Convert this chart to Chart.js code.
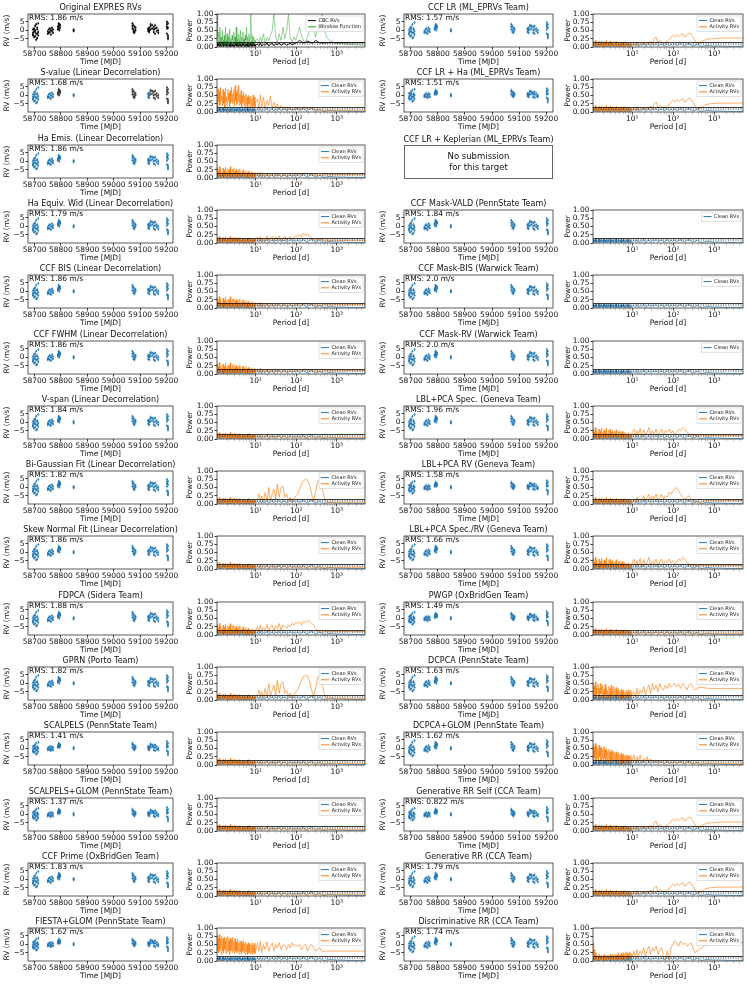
<!DOCTYPE html>
<html><head><meta charset="utf-8">
<script src="https://cdn.jsdelivr.net/npm/chart.js@4.4.1/dist/chart.umd.min.js"></script>
<style>
body{margin:0;background:#fff}
#fig{position:relative;width:747px;height:997px;overflow:hidden;font-family:'DejaVu Sans',sans-serif;color:#111}
canvas{position:absolute}
.ns{position:absolute;border:1px solid #666;box-sizing:border-box;display:flex;align-items:center;justify-content:center;text-align:center;font-size:8.5px;line-height:1.25}
.tt{position:absolute;font-size:8px;text-align:center;white-space:nowrap;transform:translate(-50%,-50%)}
</style></head>
<body><div id="fig"></div>
<script>
// ---------------- DATA ----------------
const timeTicks = [58700, 58800, 58900, 59000, 59100, 59200];
const rvTicks = [-5, 0, 5];
const powerTicks = [0, 0.25, 0.5, 0.75, 1];
const periodTicks = [2,3,4,5,6,7,8,9,10,20,30,40,50,60,70,80,90,100,200,300,400,500,600,700,800,900,1000,2000,3000,4000];
const periodLabels = {10: '10¹', 100: '10²', 1000: '10³'};
const fapLevels = [0.135, 0.09];

const leftTitles = ["Original EXPRES RVs","S-value (Linear Decorrelation)","Ha Emis. (Linear Decorrelation)","Ha Equiv. Wid (Linear Decorrelation)","CCF BIS (Linear Decorrelation)","CCF FWHM (Linear Decorrelation)","V-span (Linear Decorrelation)","Bi-Gaussian Fit (Linear Decorrelation)","Skew Normal Fit (Linear Decorrelation)","FDPCA (Sidera Team)","GPRN (Porto Team)","SCALPELS (PennState Team)","SCALPELS+GLOM (PennState Team)","CCF Prime (OxBridGen Team)","FIESTA+GLOM (PennState Team)"];
const leftRms = ["1.86","1.68","1.86","1.79","1.86","1.86","1.84","1.82","1.86","1.88","1.82","1.41","1.37","1.83","1.62"];
const leftRvSet = ['orig','sval','A','A','A','A','A','A','A','A','A','B','B','A','B'];
const leftAct = ['window','sval','mid','haeq','mid','mid','low','bigauss','low','fdpca','bigauss','low','low','low','fiesta'];

const rightTitles = ["CCF LR (ML_EPRVs Team)","CCF LR + Ha (ML_EPRVs Team)","CCF LR + Keplerian (ML_EPRVs Team)","CCF Mask-VALD (PennState Team)","CCF Mask-BIS (Warwick Team)","CCF Mask-RV (Warwick Team)","LBL+PCA Spec. (Geneva Team)","LBL+PCA RV (Geneva Team)","LBL+PCA Spec./RV (Geneva Team)","PWGP (OxBridGen Team)","DCPCA (PennState Team)","DCPCA+GLOM (PennState Team)","Generative RR Self (CCA Team)","Generative RR (CCA Team)","Discriminative RR (CCA Team)"];
const rightRms = ["1.57","1.51",null,"1.84","2.0","2.0","1.96","1.58","1.66","1.49","1.63","1.62","0.822","1.79","1.74"];
const rightRvSet = ['A','B',null,'A','A','A','A','B','A','B','A','A','B','A','A'];
const rightAct = ['ccflr','ccflr',null,'','','','lblspec','lblrv','lblspec','low','dcpca','dcglom','ccflr','ccflr','discrim'];

// RV observation epochs (MJD) and values (m/s)
const rvTime = [
58694,58694,58694,58694,58698,58698,58698,58702,58702,58702,58702,58706,58706,58706,58710,58710,58710,58710,58714,58714,58714,
58750,58750,58754,58754,58758,58758,58762,58762,58766,58766,58770,58770,
58788,58788,58791,58791,58791,58794,58794,58794,58797,58797,
58848,58848,58848,
59071,59071,59071,59075,59075,59075,59079,59079,59079,59083,59083,
59131,59131,59131,59135,59135,59135,59140,59140,59140,59146,59146,59152,59152,59152,59157,59157,59157,59163,59163,59169,59169,
59202,59202,59202,59202,59202,59206,59206,59206,59206,59206];
const rvOrig = [
-1.5,-3,0.5,-2.5, 1,-0.5,-4, 2.5,-1,-3.5,0, 3.5,-2,-5.5, 1.5,-4.5,0.5,-2, 4,-1,-3,
-2,-0.5, 0.5,-1.5, 1,-1, -2.5,0, 1.5,-0.5, 0.5,-1.5,
0.5,2, 1,3,4, 0,2.5,3.5, 1.5,3,
-0.5,0.3,0,
4,2.5,1, 0.5,-1,3, 2,-0.5,-1.5, 1.5,0,
0.5,-0.5,1, 0,1.5,-1, 2.5,0.5,3.5, 1,3, 2,-1,0.5, 3,-2,1, -0.5,1.5, 0,-1.5,
5,3.5,2,1,-2, 4,1.5,-3,-4,-5];
const rvCleanA = [
-1,-2.5,0.5,-2, 1.5,-0.5,-3.5, 2,-1,-3,0.5, 3.5,-1.5,-4.5, 1,-4,0.5,-1.5, 4.5,-0.5,-2.5,
-1.5,-0.5, 0.5,-1, 1,-1.5, -2,0, 1.5,-0.5, 0.5,-1,
0.5,1.5, 1,2.5,3.5, 0,2,3, 1.5,2.5,
-0.5,0.5,0,
3.5,2,0.5, 0.5,-1,2.5, 1.5,-0.5,-1.5, 1,0,
0.5,-1,1, 0,1.5,-1.5, 2.5,0.5,3, 1,2.5, 2,-1.5,0, 2.5,-2,0.5, -0.5,1, 0,-1.5,
4.5,3,2,0.5,-2, 3.5,1.5,-2.5,-3.5,-4.5];
const rvCleanB = [
-0.5,-2,1,-1.5, 1.5,0,-2.5, 2,-0.5,-2,0.5, 3,-1,-3.5, 1,-3,0.5,-1, 3.5,0,-2,
-1,0, 0.5,-0.5, 1,-1, -1.5,0, 1,-0.5, 0.5,-1,
0.5,1.5, 1,2,3, 0.5,1.5,2.5, 1,2,
-0.5,0.5,0,
3,2,0.5, 0.5,-0.5,2, 1.5,0,-1, 1,0,
0.5,-0.5,1, 0,1,-1, 2,0.5,2.5, 1,2, 1.5,-1,0.5, 2,-1.5,0.5, -0.5,1, 0,-1,
4,2.5,1.5,0.5,-1.5, 3,1,-2,-3,-4];

// periodogram period grid (days): short (64), mid (24), long (22)
const periodsShort = [
1.10,1.14,1.18,1.22,1.26,1.30,1.35,1.40,
1.45,1.50,1.55,1.60,1.66,1.72,1.78,1.84,
1.90,1.97,2.04,2.11,2.18,2.26,2.34,2.42,
2.50,2.59,2.68,2.77,2.87,2.97,3.07,3.18,
3.29,3.40,3.52,3.64,3.77,3.90,4.04,4.18,
4.33,4.48,4.64,4.80,4.97,5.14,5.32,5.51,
5.70,5.90,6.11,6.32,6.54,6.77,7.01,7.26,
7.51,7.77,8.04,8.32,8.61,8.91,9.22,9.55];
const periodsMid = [10,11,12,13,14,15.5,17,19,21,23,25.5,28,31,34,38,42,47,52,58,64,71,79,88,97];
const periodsLong = [108,120,135,150,170,190,215,240,270,300,340,380,430,490,560,650,800,1000,1400,2000,3000,5000];

// power values, short-period parts (64 each)
const shortClean = [
0.11,0.01,0.09,0.03,0.12,0.02,0.08,0.01,
0.1,0.04,0.12,0.01,0.07,0.03,0.11,0.02,
0.09,0.01,0.12,0.04,0.08,0.02,0.1,0.01,
0.11,0.03,0.07,0.02,0.12,0.01,0.09,0.04,
0.1,0.02,0.08,0.01,0.11,0.03,0.12,0.02,
0.07,0.01,0.1,0.04,0.09,0.02,0.11,0.01,
0.08,0.03,0.12,0.02,0.1,0.01,0.07,0.04,
0.11,0.02,0.09,0.01,0.1,0.03,0.08,0.02];
const shortCBC = [
0.13,0.02,0.1,0.04,0.15,0.02,0.09,0.01,
0.12,0.05,0.14,0.01,0.08,0.03,0.13,0.02,
0.1,0.01,0.15,0.05,0.09,0.02,0.12,0.01,
0.13,0.03,0.08,0.02,0.14,0.01,0.1,0.05,
0.12,0.02,0.09,0.01,0.13,0.04,0.15,0.02,
0.08,0.01,0.12,0.05,0.1,0.02,0.13,0.01,
0.09,0.03,0.14,0.02,0.12,0.01,0.08,0.05,
0.13,0.02,0.1,0.01,0.12,0.04,0.09,0.02];
const shortWindow = [
1.0,0.3,0.1,0.45,0.05,0.6,0.15,0.3,
0.05,0.5,0.2,0.1,0.35,0.05,0.6,0.2,
0.1,0.4,0.05,0.3,0.15,0.55,0.1,0.25,
0.05,0.35,0.2,0.1,0.45,0.05,0.3,0.15,
0.6,0.1,0.25,0.05,0.4,0.2,0.1,0.5,
0.05,0.3,0.15,0.45,0.1,0.25,0.05,0.35,
0.2,0.6,0.1,0.3,0.05,0.4,0.15,0.25,
1.0,0.2,0.1,0.35,0.05,0.3,0.2,0.15];
const shortLow = [
0.18,0.02,0.12,0.05,0.2,0.01,0.15,0.03,
0.1,0.06,0.17,0.01,0.13,0.04,0.19,0.02,
0.11,0.05,0.16,0.01,0.14,0.03,0.2,0.02,
0.09,0.04,0.15,0.01,0.18,0.03,0.12,0.05,
0.16,0.02,0.1,0.01,0.14,0.04,0.17,0.02,
0.08,0.03,0.13,0.01,0.15,0.05,0.11,0.02,
0.14,0.01,0.09,0.04,0.16,0.02,0.12,0.03,
0.1,0.01,0.13,0.04,0.08,0.02,0.12,0.03];
const shortMid = [
0.32,0.04,0.22,0.08,0.35,0.02,0.26,0.06,
0.18,0.03,0.3,0.1,0.24,0.02,0.33,0.05,
0.2,0.08,0.28,0.03,0.25,0.05,0.34,0.02,
0.17,0.06,0.27,0.03,0.3,0.04,0.21,0.07,
0.26,0.02,0.18,0.05,0.24,0.03,0.28,0.06,
0.15,0.02,0.22,0.05,0.25,0.03,0.18,0.04,
0.23,0.02,0.16,0.06,0.2,0.03,0.17,0.05,
0.14,0.02,0.19,0.04,0.12,0.03,0.16,0.02];
const shortHigh = [
0.55,0.15,0.7,0.3,0.62,0.2,0.75,0.35,
0.5,0.18,0.68,0.25,0.6,0.12,0.72,0.3,
0.45,0.2,0.7,0.35,0.58,0.15,0.65,0.28,
0.75,0.25,0.55,0.3,0.68,0.18,0.8,0.35,
0.6,0.22,0.7,0.3,0.82,0.2,0.55,0.25,
0.65,0.15,0.5,0.28,0.6,0.2,0.48,0.12,
0.55,0.22,0.45,0.15,0.5,0.25,0.42,0.1,
0.48,0.2,0.4,0.12,0.52,0.18,0.45,0.15];
const shortDc = [
0.5,0.08,0.42,0.15,0.55,0.05,0.38,0.2,
0.48,0.1,0.35,0.06,0.5,0.18,0.4,0.08,
0.45,0.12,0.32,0.05,0.48,0.15,0.38,0.1,
0.3,0.05,0.42,0.12,0.35,0.08,0.45,0.15,
0.28,0.05,0.4,0.1,0.33,0.04,0.38,0.12,
0.3,0.06,0.35,0.1,0.25,0.05,0.32,0.12,
0.28,0.04,0.3,0.1,0.22,0.06,0.3,0.08,
0.25,0.05,0.32,0.12,0.28,0.06,0.3,0.1];
const shortDcGlom = [
0.62,0.15,0.55,0.22,0.65,0.1,0.58,0.2,
0.5,0.12,0.6,0.25,0.52,0.1,0.56,0.18,
0.48,0.1,0.55,0.2,0.45,0.08,0.5,0.15,
0.42,0.1,0.48,0.18,0.4,0.06,0.45,0.15,
0.38,0.08,0.42,0.15,0.36,0.06,0.4,0.12,
0.35,0.05,0.38,0.12,0.32,0.06,0.36,0.1,
0.3,0.05,0.34,0.1,0.28,0.04,0.32,0.08,
0.28,0.04,0.3,0.1,0.26,0.05,0.3,0.08];
const shortFiesta = [
0.78,0.3,0.7,0.25,0.8,0.35,0.65,0.2,
0.75,0.3,0.68,0.25,0.72,0.35,0.6,0.22,
0.7,0.28,0.75,0.3,0.62,0.2,0.7,0.32,
0.65,0.25,0.72,0.3,0.6,0.22,0.68,0.3,
0.58,0.25,0.66,0.3,0.55,0.2,0.62,0.28,
0.6,0.22,0.55,0.3,0.62,0.25,0.52,0.2,
0.58,0.28,0.5,0.2,0.56,0.25,0.52,0.22,
0.5,0.25,0.56,0.2,0.48,0.26,0.54,0.22];
const shortDiscrim = [
0.55,0.1,0.35,0.05,0.25,0.02,0.18,0.06,
0.15,0.02,0.2,0.05,0.12,0.03,0.18,0.01,
0.14,0.05,0.2,0.02,0.16,0.04,0.12,0.01,
0.18,0.04,0.15,0.02,0.2,0.05,0.14,0.02,
0.22,0.04,0.16,0.06,0.2,0.03,0.18,0.05,
0.22,0.04,0.25,0.06,0.18,0.03,0.24,0.05,
0.2,0.05,0.26,0.07,0.22,0.04,0.28,0.06,
0.25,0.08,0.22,0.05,0.28,0.1,0.24,0.06];

// mid-period parts (24 each)
const midClean = [0.05,0.08,0.03,0.10,0.02,0.07,0.04,0.11,0.02,0.06,0.09,0.03,0.08,0.05,0.10,0.04,0.07,0.09,0.03,0.06,0.10,0.04,0.08,0.05];
const midCBC = [0.06,0.09,0.04,0.12,0.03,0.08,0.05,0.12,0.03,0.08,0.11,0.04,0.1,0.06,0.12,0.05,0.09,0.11,0.05,0.08,0.12,0.06,0.1,0.12];
const midWindow = [0.2,0.25,0.1,0.3,0.15,0.4,0.1,0.3,0.2,0.35,0.5,1.0,0.3,0.15,0.4,0.2,0.6,0.25,0.5,1.0,0.3,0.15,0.3,0.2];
const midLow = [0.05,0.1,0.03,0.12,0.02,0.08,0.05,0.11,0.02,0.09,0.04,0.1,0.03,0.07,0.09,0.02,0.06,0.08,0.03,0.05,0.07,0.03,0.06,0.04];
const midHaEq = [0.1,0.18,0.04,0.2,0.06,0.15,0.03,0.22,0.08,0.12,0.2,0.05,0.18,0.1,0.22,0.06,0.15,0.2,0.08,0.14,0.2,0.1,0.18,0.22];
const midCcfLR = [0.08,0.12,0.04,0.15,0.05,0.1,0.08,0.14,0.06,0.12,0.1,0.18,0.08,0.25,0.3,0.12,0.2,0.15,0.1,0.12,0.18,0.22,0.3,0.35];
const midSval = [0.3,0.4,0.1,0.52,0.15,0.45,0.1,0.35,0.2,0.48,0.1,0.3,0.15,0.25,0.08,0.2,0.12,0.15,0.06,0.1,0.12,0.05,0.08,0.1];
const midMid = [0.1,0.15,0.03,0.18,0.05,0.12,0.02,0.15,0.06,0.1,0.14,0.03,0.12,0.08,0.1,0.04,0.09,0.12,0.05,0.08,0.1,0.06,0.09,0.12];
const midLblSpec = [0.2,0.3,0.08,0.25,0.1,0.32,0.05,0.28,0.12,0.2,0.35,0.1,0.25,0.15,0.3,0.08,0.22,0.3,0.12,0.25,0.2,0.3,0.18,0.25];
const midBiGauss = [0.1,0.15,0.3,0.1,0.25,0.05,0.35,0.12,0.5,0.1,0.3,0.45,0.15,0.6,0.2,0.5,0.55,0.2,0.3,0.1,0.2,0.05,0.15,0.25];
const midFdpca = [0.15,0.25,0.08,0.3,0.1,0.22,0.15,0.32,0.1,0.25,0.3,0.12,0.28,0.2,0.35,0.15,0.3,0.25,0.2,0.3,0.25,0.35,0.3,0.38];
const midDcpca = [0.2,0.25,0.1,0.35,0.15,0.3,0.2,0.4,0.15,0.35,0.45,0.2,0.5,0.3,0.45,0.25,0.5,0.35,0.3,0.45,0.35,0.5,0.4,0.45];
const midDcGlom = [0.15,0.3,0.05,0.25,0.1,0.3,0.05,0.2,0.12,0.25,0.05,0.18,0.1,0.15,0.05,0.12,0.08,0.1,0.04,0.08,0.1,0.05,0.07,0.06];
const midFiesta = [0.3,0.55,0.3,0.6,0.25,0.5,0.35,0.58,0.3,0.45,0.55,0.3,0.5,0.4,0.55,0.35,0.5,0.45,0.35,0.5,0.4,0.55,0.45,0.5];
const midDiscrim = [0.15,0.3,0.1,0.35,0.15,0.3,0.2,0.4,0.15,0.35,0.45,0.2,0.4,0.3,0.45,0.2,0.35,0.4,0.1,0.02,0.3,0.05,0.4,0.5];
const midLblRV = [0.08,0.12,0.05,0.2,0.08,0.15,0.1,0.25,0.08,0.2,0.3,0.1,0.25,0.15,0.3,0.1,0.2,0.3,0.15,0.25,0.2,0.35,0.3,0.4];

// long-period parts (22 each)
const longClean = [0.09,0.04,0.07,0.10,0.05,0.03,0.08,0.10,0.06,0.03,0.05,0.08,0.04,0.02,0.03,0.05,0.04,0.03,0.03,0.02,0.02,0.02];
const longCBC = [0.15,0.2,0.16,0.12,0.14,0.18,0.15,0.12,0.14,0.2,0.16,0.13,0.12,0.12,0.13,0.13,0.13,0.13,0.13,0.13,0.13,0.13];
const longWindow = [0.4,0.6,0.35,0.2,0.15,0.3,0.55,0.7,0.5,0.3,0.55,0.75,1.0,0.6,0.3,0.2,0.15,0.1,0.1,0.08,0.06,0.05];
const longLow = [0.05,0.07,0.04,0.06,0.03,0.05,0.07,0.04,0.03,0.05,0.06,0.04,0.03,0.04,0.05,0.05,0.05,0.05,0.05,0.05,0.05,0.05];
const longHaEq = [0.2,0.26,0.18,0.3,0.22,0.28,0.2,0.15,0.1,0.08,0.1,0.12,0.1,0.08,0.08,0.08,0.08,0.08,0.08,0.08,0.08,0.08];
const longCcfLR = [0.3,0.38,0.32,0.36,0.4,0.3,0.35,0.42,0.38,0.3,0.18,0.12,0.1,0.15,0.2,0.23,0.25,0.26,0.27,0.27,0.27,0.27];
const longSval = [0.12,0.08,0.1,0.15,0.12,0.1,0.08,0.12,0.1,0.08,0.06,0.05,0.05,0.05,0.05,0.05,0.05,0.05,0.05,0.05,0.05,0.05];
const longMid = [0.1,0.14,0.1,0.12,0.15,0.1,0.13,0.1,0.08,0.1,0.08,0.07,0.08,0.1,0.1,0.1,0.1,0.1,0.1,0.1,0.1,0.1];
const longLblSpec = [0.15,0.2,0.3,0.25,0.35,0.3,0.2,0.15,0.12,0.1,0.1,0.1,0.1,0.1,0.1,0.1,0.1,0.1,0.1,0.1,0.1,0.1];
const longBiGauss = [0.3,0.45,0.6,0.7,0.75,0.72,0.55,0.3,0.1,0.35,0.7,0.75,0.55,0.2,0.05,0.05,0.05,0.05,0.05,0.05,0.05,0.05];
const longFdpca = [0.35,0.4,0.3,0.42,0.38,0.45,0.4,0.35,0.3,0.2,0.12,0.1,0.08,0.1,0.1,0.1,0.1,0.1,0.1,0.1,0.1,0.1];
const longDcpca = [0.5,0.4,0.48,0.35,0.5,0.42,0.3,0.45,0.5,0.4,0.3,0.35,0.38,0.38,0.37,0.36,0.35,0.35,0.35,0.35,0.35,0.35];
const longDcGlom = [0.08,0.05,0.07,0.1,0.06,0.05,0.08,0.06,0.05,0.06,0.05,0.04,0.04,0.05,0.05,0.05,0.05,0.05,0.05,0.05,0.05,0.05];
const longFiesta = [0.45,0.5,0.35,0.45,0.5,0.3,0.45,0.5,0.4,0.3,0.35,0.4,0.3,0.28,0.3,0.3,0.3,0.3,0.3,0.3,0.3,0.3];
const longDiscrim = [0.6,0.55,0.45,0.6,0.5,0.55,0.45,0.5,0.55,0.4,0.25,0.3,0.35,0.4,0.45,0.5,0.52,0.55,0.55,0.56,0.56,0.56];
const longLblRV = [0.45,0.5,0.4,0.3,0.2,0.15,0.2,0.25,0.15,0.1,0.08,0.06,0.05,0.06,0.08,0.1,0.1,0.1,0.1,0.1,0.1,0.1];

// ---------------- DRAWING ----------------
Chart.defaults.font.family = "'DejaVu Sans', sans-serif";
Chart.defaults.font.size = 7.5;
Chart.defaults.color = '#111';

const periods = periodsShort.concat(periodsMid, periodsLong);
const powClean = shortClean.concat(midClean, longClean);
const powCBC = shortCBC.concat(midCBC, longCBC);
const powWindow = shortWindow.concat(midWindow, longWindow);
const actProfiles = {
  low: shortLow.concat(midLow, longLow),
  haeq: shortLow.concat(midHaEq, longHaEq),
  ccflr: shortLow.concat(midCcfLR, longCcfLR),
  sval: shortHigh.concat(midSval, longSval),
  mid: shortMid.concat(midMid, longMid),
  lblspec: shortMid.concat(midLblSpec, longLblSpec),
  bigauss: shortLow.concat(midBiGauss, longBiGauss),
  fdpca: shortMid.concat(midFdpca, longFdpca),
  dcpca: shortDc.concat(midDcpca, longDcpca),
  dcglom: shortDcGlom.concat(midDcGlom, longDcGlom),
  fiesta: shortFiesta.concat(midFiesta, longFiesta),
  discrim: shortDiscrim.concat(midDiscrim, longDiscrim),
  lblrv: shortLow.concat(midLblRV, longLblRV)
};
const rvSets = {orig: rvOrig, A: rvCleanA, B: rvCleanB, sval: rvCleanA};

const fig = document.getElementById('fig');
const colBox = [{x:28,w:145},{x:217,w:148},{x:404,w:149},{x:593,w:150}];
const BOXH = 33;
function rowTop(i){ return Math.round(14 + 65.3*i); }
const BLUE = '#1f77b4', ORANGE = 'rgba(255,127,14,0.75)', GREEN = 'rgba(44,160,44,0.6)';

function addCanvas(x,y,w,h){
  const c = document.createElement('canvas');
  c.width = w; c.height = h;
  c.style.left = x+'px'; c.style.top = y+'px'; c.style.width = w+'px'; c.style.height = h+'px';
  fig.appendChild(c); return c;
}
function decorPlugin(o){
  return {id:'decor', afterDraw(chart){
    const ctx = chart.ctx, a = chart.chartArea;
    ctx.save();
    ctx.strokeStyle = '#333'; ctx.lineWidth = 0.8;
    ctx.strokeRect(a.left, a.top, a.right-a.left, a.bottom-a.top);
    ctx.fillStyle = '#111';
    if (o.title){ ctx.font = "8px 'DejaVu Sans'"; ctx.textAlign='center'; ctx.textBaseline='middle'; ctx.fillText(o.title,(a.left+a.right)/2,a.top-6); }
    if (o.rms){ ctx.font = "7.5px 'DejaVu Sans'"; ctx.textAlign='left'; ctx.textBaseline='top'; ctx.fillText(o.rms,a.left+1,a.top+0.5); }
    if (o.legend){
      ctx.font = "5px 'DejaVu Sans'";
      const rowH=6.2, pad=2, lw=8, gap=2.5;
      const tw = Math.max(...o.legend.map(l=>ctx.measureText(l.label).width));
      const bw = pad*2+lw+gap+tw, bh = pad*2+rowH*o.legend.length-1;
      const bx = a.right-2-bw, by = a.top+2;
      ctx.fillStyle='rgba(255,255,255,0.85)'; ctx.strokeStyle='#ccc'; ctx.lineWidth=0.6;
      ctx.fillRect(bx,by,bw,bh); ctx.strokeRect(bx,by,bw,bh);
      o.legend.forEach((l,i)=>{
        const cy = by+pad+rowH*i+rowH/2-0.5;
        ctx.strokeStyle=l.color; ctx.lineWidth=1; ctx.beginPath(); ctx.moveTo(bx+pad,cy); ctx.lineTo(bx+pad+lw,cy); ctx.stroke();
        ctx.fillStyle='#111'; ctx.textAlign='left'; ctx.textBaseline='middle'; ctx.fillText(l.label,bx+pad+lw+gap,cy);
      });
    }
    ctx.restore();
  }};
}
function axisTitle(text,pad){ return {display:true,text,padding:pad,font:{size:7.5},color:'#111'}; }
const gridOpts = {drawOnChartArea:false,drawTicks:true,tickLength:2.5,color:'#333'};
const isMajorPeriod = v => v in periodLabels;
const logGridOpts = {drawOnChartArea:false,drawTicks:true,tickLength:2.5,
  tickColor: c => (c.tick && isMajorPeriod(c.tick.value)) ? '#333' : '#999',
  tickWidth: c => (c.tick && isMajorPeriod(c.tick.value)) ? 0.9 : 0.5};
const fmtMinus = v => v<0 ? '\u2212'+Math.abs(v) : String(v);

function rvDatasets(pts,color,barColor){
  return [{data:pts,backgroundColor:color,pointRadius:0.95,borderWidth:0},
          {data:pts,pointStyle:'line',rotation:90,radius:1.9,borderColor:barColor,borderWidth:0.6,backgroundColor:barColor}];
}
function rvPanel(col,row,title,rms,kind){
  const b=colBox[col], top=rowTop(row), YW=28, TOP=12, XH=22, R=16;
  const c = addCanvas(b.x-YW, top-TOP, YW+b.w+R, TOP+BOXH+XH);
  const vals = rvSets[kind];
  const pts = rvTime.map((t,i)=>({x:t,y:vals[i]}));
  let datasets;
  if (kind==='orig') datasets=rvDatasets(pts,'#000','rgba(0,0,0,0.55)');
  else if (kind==='sval'){
    const dark = p => (p.x>58780&&p.x<58800)||(p.x>59060&&p.x<59090)||p.x>59138;
    datasets=rvDatasets(pts.filter(p=>!dark(p)),BLUE,'rgba(31,119,180,0.55)')
      .concat(rvDatasets(pts.filter(dark),'#333','rgba(60,60,60,0.45)'));
  } else datasets=rvDatasets(pts,BLUE,'rgba(31,119,180,0.55)');
  new Chart(c,{type:'scatter',data:{datasets},options:{
    responsive:false,animation:false,devicePixelRatio:1,events:[],
    layout:{padding:{top:TOP,right:R,left:0,bottom:0}},
    plugins:{legend:{display:false},tooltip:{enabled:false}},
    scales:{
      x:{type:'linear',min:58675,max:59225,afterFit:s=>{s.height=XH;},afterBuildTicks:s=>{s.ticks=timeTicks.map(v=>({value:v}));},
         ticks:{autoSkip:false,maxRotation:0,minRotation:0,padding:0.5,callback:v=>String(v)},
         grid:gridOpts,border:{display:false},title:axisTitle('Time [MJD]',{top:0,bottom:2.5})},
      y:{type:'linear',min:-9.8,max:9.5,afterFit:s=>{s.width=YW;},afterBuildTicks:s=>{s.ticks=rvTicks.map(v=>({value:v}));},
         ticks:{autoSkip:false,padding:1,callback:fmtMinus},
         grid:gridOpts,border:{display:false},title:axisTitle('RV (m/s)',{top:2.5,bottom:0})}
    }},
    plugins:[decorPlugin({title,rms:'RMS: '+rms+' m/s'})]});
}
function lineDs(xs,ys,color,width,dash){
  return {data:xs.map((x,i)=>({x,y:ys[i]})),borderColor:color,borderWidth:width,pointRadius:0,borderDash:dash||[],fill:false,tension:0};
}
function pgPanel(col,row,actKey){
  const b=colBox[col], top=rowTop(row), YW=32, TOP=12, XH=22, R=4;
  const c = addCanvas(b.x-YW, top-TOP, YW+b.w+R, TOP+BOXH+XH);
  const fapX=[1.1,5000];
  const datasets=[lineDs(fapX,[fapLevels[0],fapLevels[0]],'#000',0.8),lineDs(fapX,[fapLevels[1],fapLevels[1]],'#000',0.8,[1,1.5])];
  let legend;
  if (actKey==='window'){
    datasets.push(lineDs(periods,powWindow,GREEN,0.8));
    datasets.push(lineDs(periods,powCBC,'#000',0.9));
    legend=[{label:'CBC RVs',color:'#000'},{label:'Window Function',color:'#2ca02c'}];
  } else {
    if (actKey) datasets.push(lineDs(periods,actProfiles[actKey],ORANGE,0.85));
    datasets.push(lineDs(periods,powClean,'rgba(31,119,180,0.85)',0.8));
    legend = actKey ? [{label:'Clean RVs',color:BLUE},{label:'Activity RVs',color:'#ff7f0e'}] : [{label:'Clean RVs',color:BLUE}];
  }
  const titlePad = col===1 ? 0.5 : 3;
  new Chart(c,{type:'line',data:{datasets},options:{
    responsive:false,animation:false,devicePixelRatio:1,events:[],
    layout:{padding:{top:TOP,right:R,left:0,bottom:0}},
    plugins:{legend:{display:false},tooltip:{enabled:false}},
    scales:{
      x:{type:'logarithmic',min:1.1,max:5000,afterFit:s=>{s.height=XH;},afterBuildTicks:s=>{s.ticks=periodTicks.map(v=>({value:v}));},
         ticks:{autoSkip:false,maxRotation:0,minRotation:0,padding:0.5,callback:v=>periodLabels[v]||''},
         grid:logGridOpts,border:{display:false},title:axisTitle('Period [d]',{top:0,bottom:2.5})},
      y:{type:'linear',min:0,max:1,afterFit:s=>{s.width=YW;},afterBuildTicks:s=>{s.ticks=powerTicks.map(v=>({value:v}));},
         ticks:{autoSkip:false,padding:1,callback:v=>v.toFixed(2)},
         grid:gridOpts,border:{display:false},title:axisTitle('Power',{top:titlePad,bottom:0})}
    }},
    plugins:[decorPlugin({legend})]});
}
function noSubmission(col,row,title){
  const b=colBox[col], top=rowTop(row);
  const t=document.createElement('div'); t.className='tt'; t.textContent=title;
  t.style.left=(b.x+b.w/2)+'px'; t.style.top=(top-6)+'px'; fig.appendChild(t);
  const d=document.createElement('div'); d.className='ns';
  d.style.left=b.x+'px'; d.style.top=top+'px'; d.style.width=b.w+'px'; d.style.height=(BOXH+1)+'px';
  d.innerHTML='No submission<br>for this target'; fig.appendChild(d);
}

for (let r=0;r<15;r++){
  rvPanel(0,r,leftTitles[r],leftRms[r],leftRvSet[r]);
  pgPanel(1,r,leftAct[r]);
  if (rightRms[r]===null){ noSubmission(2,r,rightTitles[r]); }
  else { rvPanel(2,r,rightTitles[r],rightRms[r],rightRvSet[r]); pgPanel(3,r,rightAct[r]); }
}
</script>
</body></html>
